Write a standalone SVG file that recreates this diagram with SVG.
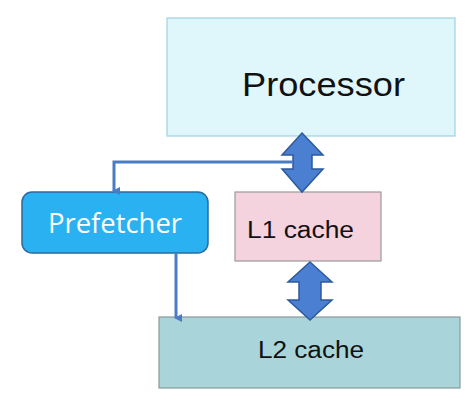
<svg xmlns="http://www.w3.org/2000/svg" width="473" height="403" viewBox="0 0 473 403">
<style>
.box{stroke-width:1.2}
.lbl{font-family:"Liberation Sans",Arial,sans-serif;fill:#111}
.dbl{fill:#4a7fd2;stroke:#2c5a9c;stroke-width:1.5;stroke-linejoin:miter}
.conn{fill:none;stroke:#4a7cc4;stroke-width:3}
</style>
<defs>
<marker id="ah" markerWidth="8" markerHeight="8" refX="4" refY="6" orient="auto" markerUnits="userSpaceOnUse" viewBox="0 0 8 8">
<path d="M0,0 L8,0 L4,8 Z" fill="#4a7cc4"/>
</marker>
</defs>
<rect width="473" height="403" fill="#ffffff"/>
<g id="processor">
<rect class="box" x="167" y="18" width="288" height="118" fill="#dff6fb" stroke="#9fd3e3"/>
<text class="lbl" x="323.5" y="96" font-size="34" text-anchor="middle" textLength="163" lengthAdjust="spacingAndGlyphs">Processor</text>
</g>
<g id="l1">
<rect class="box" x="235" y="192" width="146" height="69" fill="#f4d2de" stroke="#9a9a9a"/>
<text class="lbl" x="300.5" y="238" font-size="23" text-anchor="middle" textLength="107" lengthAdjust="spacingAndGlyphs">L1 cache</text>
</g>
<g id="l2">
<rect class="box" x="159" y="317" width="301" height="71" fill="#a9d4da" stroke="#8a9a9c"/>
<text class="lbl" x="311" y="358" font-size="23" text-anchor="middle" textLength="106" lengthAdjust="spacingAndGlyphs">L2 cache</text>
</g>
<g id="prefetcher">
<rect x="22" y="192" width="186" height="61" rx="10" fill="#2ab1f2" stroke="#2a6a9e" stroke-width="1.5"/>
<text x="115" y="233" font-size="27" text-anchor="middle" fill="#ffffff" font-family="'Open Sans','Noto Sans',sans-serif" textLength="134" lengthAdjust="spacingAndGlyphs">Prefetcher</text>
</g>
<g id="connectors">
<path class="dbl" d="M302,133 L323,155 L312,155 L312,169 L323,169 L302,192 L282,169 L293,169 L293,155 L282,155 Z"/>
<path class="dbl" d="M310,262 L332,282 L321,282 L321,300 L332,300 L310,320 L288,300 L299,300 L299,282 L288,282 Z"/>
<path class="conn" d="M293,162 L114,162 L114,191" marker-end="url(#ah)"/>
<path class="conn" d="M176,253 L176,318" marker-end="url(#ah)"/>
</g>
</svg>
